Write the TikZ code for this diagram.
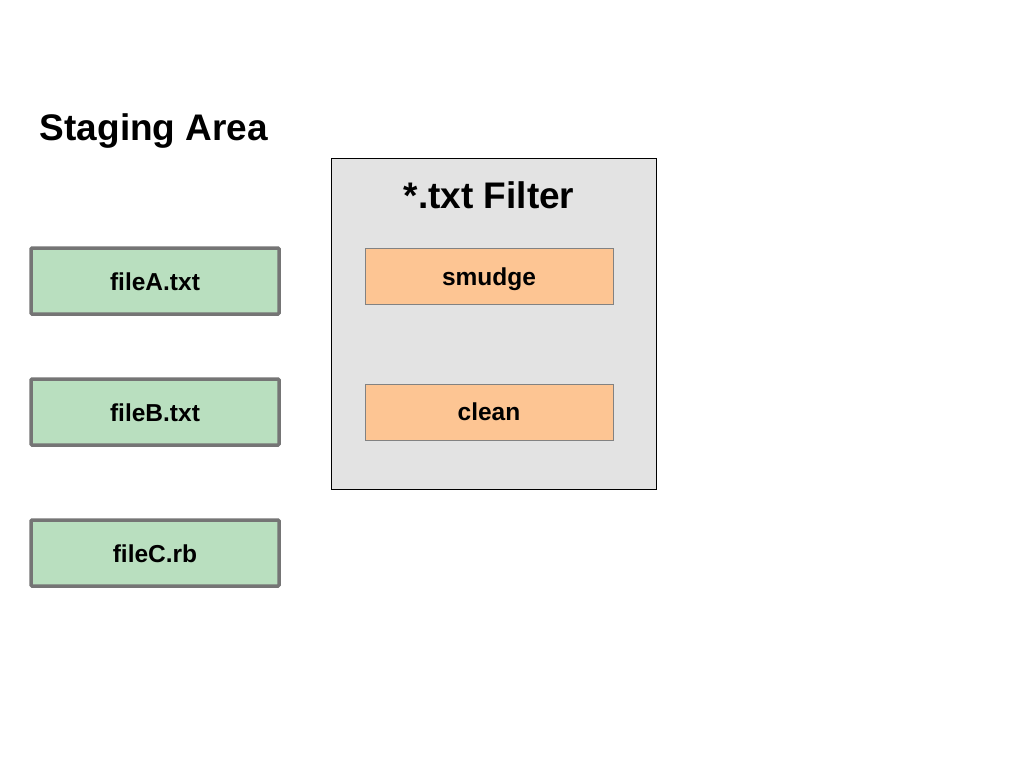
\documentclass[tikz,border=0pt]{standalone}
\usepackage{fontspec}
\setmainfont{Liberation Sans}
\begin{document}
\begin{tikzpicture}[x=1pt,y=-1pt,
  filebox/.style={draw=gray!80!black!90, line width=3.5pt, fill={rgb,255:red,185;green,223;blue,191}, rounded corners=1pt},
  filterbox/.style={draw=black, line width=1pt, fill={rgb,255:red,227;green,227;blue,227}},
  opbox/.style={draw={rgb,255:red,130;green,130;blue,130}, line width=1pt, fill={rgb,255:red,253;green,197;blue,147}},
  small/.style={font=\fontsize{24.5}{28}\selectfont\bfseries, anchor=base},
  big/.style={font=\fontsize{37}{42}\selectfont\bfseries, anchor=base}]
\useasboundingbox (0,0) rectangle (1024,768);
\fill[white] (0,0) rectangle (1024,768);
\node[big] (title) at (154,140) {Staging Area};
\draw[filterbox] (331,158) rectangle (656,489);
\node[big] (ftitle) at (489,208) {*.txt Filter};
\draw[filebox] (31,248) rectangle (279,314);
\node[small] (fa) at (155,290) {fileA.txt};
\draw[filebox] (31,379) rectangle (279,445);
\node[small] (fb) at (155,421) {fileB.txt};
\draw[filebox] (31,520) rectangle (279,586);
\node[small] (fc) at (155,562) {fileC.rb};
\draw[opbox] (365,248) rectangle (613,304);
\node[small] (sm) at (489,285) {smudge};
\draw[opbox] (365,384) rectangle (613,440);
\node[small] (cl) at (489,420) {clean};
\end{tikzpicture}
\end{document}
